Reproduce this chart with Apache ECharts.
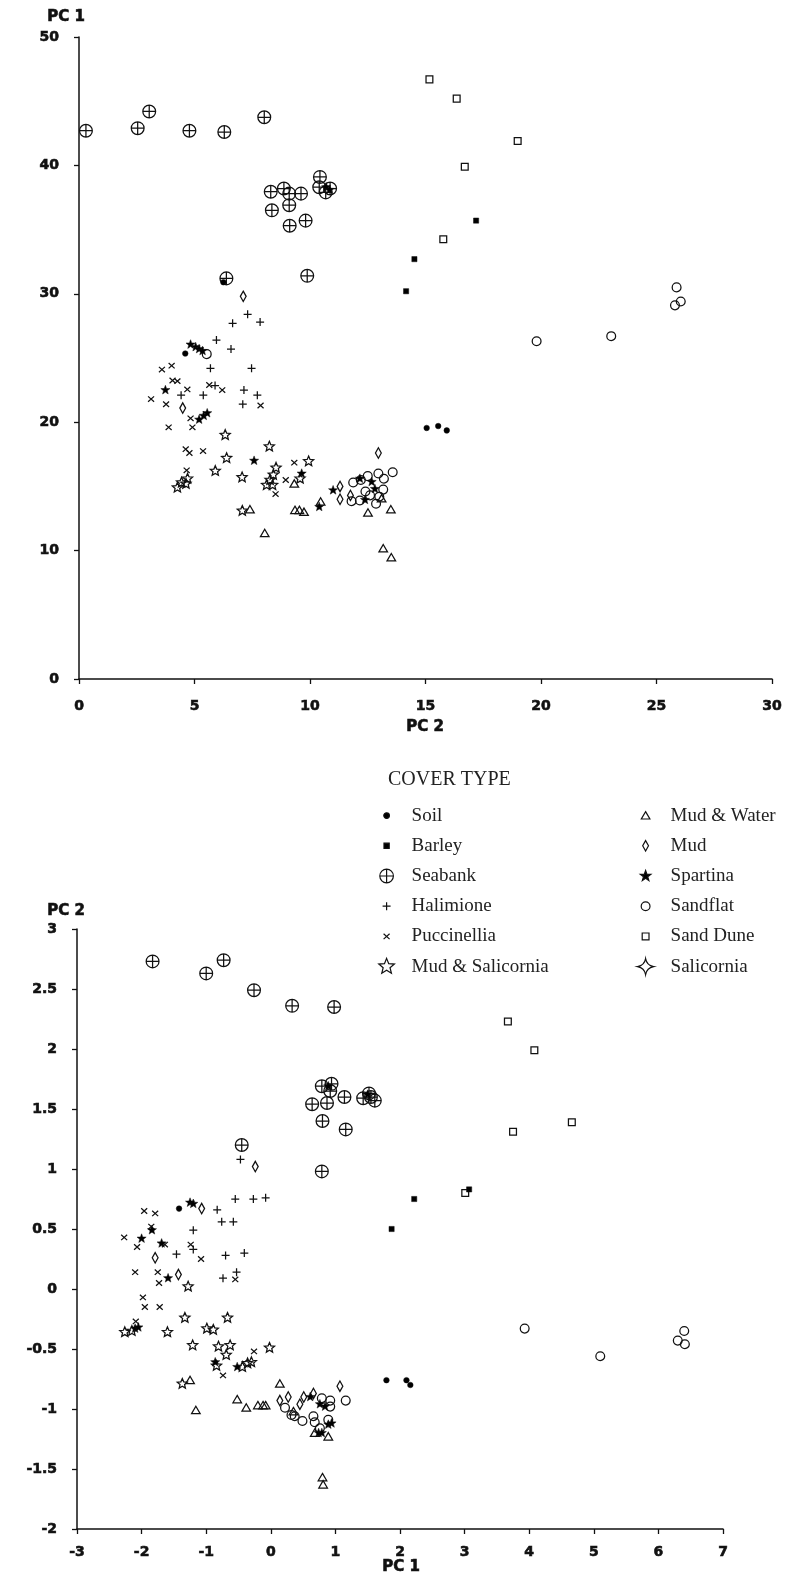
<!DOCTYPE html>
<html><head><meta charset="utf-8">
<script src="https://cdn.jsdelivr.net/npm/echarts@6/dist/echarts.min.js"></script>
<style>html,body{margin:0;padding:0;background:#fff}#c{width:788px;height:1577px}</style>
</head><body><div id="c"></div>
<script>
// ---------- DATA: top chart (x = PC 2, y = PC 1) ----------
const seabankTop = [[0.3,42.7],[2.54,42.9],[3.04,44.2],[4.78,42.7],[6.29,42.6],[8.02,43.75],[8.30,37.95],[8.87,38.2],[9.10,37.8],[9.61,37.8],[8.35,36.5],[9.10,36.9],[9.12,35.3],[9.81,35.7],[10.43,39.1],[10.4,38.3],[10.68,37.9],[10.87,38.2],[9.88,31.4],[6.38,31.2]];
const soilTop = [[15.05,19.55],[15.55,19.7],[15.92,19.36],[4.6,25.35],[6.25,30.9]];
const barleyTop = [[14.16,30.2],[14.52,32.7],[17.19,35.7]];
const halimioneTop = [[7.30,28.4],[6.65,27.7],[7.84,27.8],[5.95,26.4],[6.58,25.7],[5.69,24.2],[7.47,24.2],[4.42,22.1],[5.38,22.1],[5.89,22.85],[7.14,22.5],[7.72,22.1],[7.09,21.4]];
const puccinelliaTop = [[3.59,24.1],[4.01,24.4],[4.05,23.25],[4.26,23.2],[4.69,22.55],[3.12,21.8],[3.77,21.4],[5.64,22.9],[6.2,22.5],[7.86,21.3],[4.83,20.3],[4.91,19.6],[3.88,19.6],[4.62,17.9],[4.78,17.6],[5.37,17.75],[9.32,16.85],[4.66,16.25],[8.95,15.5],[8.51,14.4]];
const mudSalicorniaTop = [[6.33,19.0],[8.24,18.1],[6.39,17.2],[9.94,16.95],[5.9,16.2],[7.06,15.7],[4.26,14.9],[4.44,15.3],[4.63,15.2],[4.7,15.6],[8.53,16.45],[8.41,15.9],[8.27,15.5],[8.12,15.1],[8.38,15.1],[9.57,15.6],[7.07,13.1]];
const mudWaterTop = [[9.32,15.2],[7.4,13.2],[9.35,13.15],[9.54,13.15],[9.74,13.0],[8.04,11.35],[10.46,13.8],[12.51,12.95],[13.5,13.2],[13.17,10.16],[13.52,9.46],[13.1,14.05]];
const mudTop = [[7.11,29.8],[4.49,21.1],[11.3,15.0],[11.3,14.0],[12.96,17.6],[11.75,14.3]];
const spartinaTop = [[10.7,38.3],[10.85,38.1],[4.83,26.05],[5.05,25.85],[5.2,25.7],[5.35,25.55],[3.74,22.5],[5.2,20.2],[5.4,20.5],[5.55,20.7],[7.58,17.0],[9.64,16.0],[10.4,13.4],[11.0,14.7],[12.16,15.6],[12.67,15.35],[12.81,14.8],[12.38,13.95]];
const sandflatTop = [[5.53,25.3],[25.87,30.5],[26.05,29.4],[25.8,29.1],[19.81,26.3],[23.04,26.7],[13.58,16.1],[11.87,15.3],[12.2,15.5],[12.5,15.8],[12.96,16.0],[13.2,15.6],[13.17,14.75],[12.86,13.65],[11.8,13.85],[12.16,13.9],[12.6,14.3],[13.0,14.2],[12.4,14.6]];
const sandDuneTop = [[15.17,46.7],[16.35,45.2],[18.99,41.9],[16.7,39.9],[15.77,34.25]];
const salicorniaTop = [];

// ---------- DATA: bottom chart (x = PC 1, y = PC 2) ----------
const seabankBot = [[-1.83,2.73],[-1.0,2.63],[-0.73,2.74],[-0.26,2.49],[0.33,2.36],[0.98,2.35],[0.79,1.69],[0.94,1.71],[0.92,1.65],[0.64,1.54],[0.87,1.55],[1.14,1.60],[1.43,1.59],[1.52,1.63],[1.55,1.60],[1.61,1.57],[0.80,1.40],[1.16,1.33],[0.79,0.98],[-0.45,1.20]];
const soilBot = [[-1.42,0.67],[1.79,-0.76],[2.10,-0.76],[2.16,-0.80]];
const barleyBot = [[3.07,0.83],[2.22,0.75],[1.87,0.50]];
const halimioneBot = [[-0.47,1.08],[-0.55,0.75],[-0.27,0.75],[-0.08,0.76],[-0.83,0.66],[-0.76,0.56],[-0.58,0.56],[-1.20,0.49],[-1.46,0.29],[-1.20,0.33],[-0.70,0.28],[-0.41,0.30],[-0.74,0.09],[-0.53,0.14]];
const puccinelliaBot = [[-1.96,0.65],[-1.79,0.63],[-2.27,0.43],[-2.07,0.35],[-1.85,0.52],[-1.24,0.37],[-1.08,0.25],[-2.10,0.14],[-1.75,0.14],[-1.73,0.05],[-0.55,0.08],[-1.98,-0.07],[-1.95,-0.15],[-1.72,-0.15],[-2.09,-0.27],[-0.74,-0.72],[-0.26,-0.52],[-1.64,0.37]];
const mudSalicorniaBot = [[-1.28,0.02],[-2.26,-0.36],[-2.15,-0.35],[-1.60,-0.36],[-1.33,-0.24],[-0.67,-0.24],[-0.99,-0.33],[-0.89,-0.34],[-1.21,-0.47],[-0.81,-0.48],[-0.63,-0.47],[-0.69,-0.55],[-0.84,-0.64],[-0.44,-0.65],[-0.36,-0.62],[-0.30,-0.61],[-0.02,-0.49],[-1.37,-0.79]];
const mudWaterBot = [[-1.25,-0.76],[-1.16,-1.01],[-0.52,-0.92],[-0.38,-0.99],[-0.20,-0.97],[-0.12,-0.97],[-0.08,-0.97],[0.14,-0.79],[0.89,-1.23],[0.35,-1.02],[0.68,-1.20],[0.80,-1.57],[0.81,-1.63]];
const mudBot = [[-1.79,0.26],[-1.43,0.12],[-1.07,0.67],[-0.24,1.02],[1.07,-0.81],[0.14,-0.93],[0.27,-0.90],[0.45,-0.96],[0.51,-0.90],[0.66,-0.87]];
const spartinaBot = [[0.89,1.69],[1.5,1.62],[-2.0,0.42],[-1.84,0.49],[-1.69,0.38],[-1.59,0.09],[-1.25,0.72],[-1.2,0.71],[-2.1,-0.33],[-2.05,-0.32],[0.61,-0.90],[0.76,-0.96],[0.84,-0.98],[0.89,-1.13],[0.94,-1.12],[0.74,-1.20],[0.79,-1.20],[-0.52,-0.65],[-0.86,-0.61]];
const sandflatBot = [[3.93,-0.33],[5.10,-0.56],[6.40,-0.35],[6.30,-0.43],[6.41,-0.46],[1.16,-0.93],[0.22,-0.99],[0.32,-1.05],[0.37,-1.06],[0.49,-1.10],[0.66,-1.06],[0.68,-1.11],[0.76,-1.16],[0.79,-0.91],[0.92,-0.93],[0.92,-0.98],[0.89,-1.09]];
const sandDuneBot = [[3.67,2.23],[4.08,1.99],[4.66,1.39],[3.75,1.31],[3.01,0.80]];
const salicorniaBot = [];

// ---------- TICKS / LABELS ----------
const topXTicks = {min:0, max:30, interval:5};
const topYTicks = {min:0, max:50, interval:10};
const botXTicks = {min:-3, max:7, interval:1};
const botYTicks = {min:-2, max:3, interval:0.5};
const leftLegendNames = ['Soil','Barley','Seabank','Halimione','Puccinellia','Mud & Salicornia'];
const rightLegendNames = ['Mud & Water','Mud','Spartina','Sandflat','Sand Dune','Salicornia'];

// ---------- SYMBOLS (20x20 frame) ----------
function star(R, r, n) {
  let d = 'M0,0M20,20';
  for (let k = 0; k < 2*n; k++) {
    const a = -Math.PI/2 + k*Math.PI/n;
    const rad = k % 2 ? r : R;
    d += (k ? 'L' : 'M') + (10 + rad*Math.cos(a)).toFixed(2) + ',' + (10 + rad*Math.sin(a)).toFixed(2);
  }
  return 'path://' + d + 'Z';
}
const F = 'M0,0M20,20';
const SYM = {
  'Soil': 'path://' + F + 'M12.8,10A2.8,2.8,0,1,1,7.2,10A2.8,2.8,0,1,1,12.8,10Z',
  'Barley': 'path://' + F + 'M7.4,7.4L12.6,7.4L12.6,12.6L7.4,12.6Z',
  'Seabank': 'path://' + F + 'M16.4,10A6.4,6.4,0,1,1,3.6,10A6.4,6.4,0,1,1,16.4,10ZM3.6,10L16.4,10M10,3.6L10,16.4',
  'Halimione': 'path://' + F + 'M6,10L14,10M10,6L10,14',
  'Puccinellia': 'path://' + F + 'M7,7.3L13,12.7M13,7.3L7,12.7',
  'Mud & Salicornia': star(5.3, 2.4, 5),
  'Mud & Water': 'path://' + F + 'M10,6L14.3,13.4L5.7,13.4Z',
  'Mud': 'path://' + F + 'M10,4.8L12.9,10L10,15.2L7.1,10Z',
  'Spartina': star(4.8, 2.0, 5),
  'Sandflat': 'path://' + F + 'M14.4,10A4.4,4.4,0,1,1,5.6,10A4.4,4.4,0,1,1,14.4,10Z',
  'Sand Dune': 'path://' + F + 'M6.6,6.6L13.4,6.6L13.4,13.4L6.6,13.4Z',
  'Salicornia': 'path://' + F + 'M10,3Q11,9,17,10Q11,11,10,17Q9,11,3,10Q9,9,10,3Z'
};
const LEGEND_ICON = Object.assign({}, SYM, {
  'Mud & Salicornia': star(8.2, 3.6, 5),
  'Spartina': star(5.5, 2.2, 5),
  'Seabank': 'path://' + F + 'M16.8,10A6.8,6.8,0,1,1,3.2,10A6.8,6.8,0,1,1,16.8,10ZM3.2,10L16.8,10M10,3.2L10,16.8',
  'Salicornia': 'path://' + F + 'M10,2Q11.2,8.8,18,10Q11.2,11.2,10,18Q8.8,11.2,2,10Q8.8,8.8,10,2Z'
});
const FILLED = {'Soil':1,'Barley':1,'Spartina':1};

const seriesDefs = [
  ['Seabank', seabankTop, seabankBot],
  ['Halimione', halimioneTop, halimioneBot],
  ['Puccinellia', puccinelliaTop, puccinelliaBot],
  ['Mud & Salicornia', mudSalicorniaTop, mudSalicorniaBot],
  ['Salicornia', salicorniaTop, salicorniaBot],
  ['Mud & Water', mudWaterTop, mudWaterBot],
  ['Mud', mudTop, mudBot],
  ['Sandflat', sandflatTop, sandflatBot],
  ['Sand Dune', sandDuneTop, sandDuneBot],
  ['Spartina', spartinaTop, spartinaBot],
  ['Barley', barleyTop, barleyBot],
  ['Soil', soilTop, soilBot]
];

const series = [];
seriesDefs.forEach(function (d, i) {
  [d[1], d[2]].forEach(function (data, g) {
    series.push({
      type: 'scatter', name: d[0], xAxisIndex: g, yAxisIndex: g,
      data: data, symbol: SYM[d[0]], symbolSize: 20, z: 2 + i,
      itemStyle: {
        color: FILLED[d[0]] ? '#000' : 'rgba(0,0,0,0)',
        borderColor: '#111', borderWidth: FILLED[d[0]] ? 0.5 : 1.25, opacity: 1
      },
      silent: true
    });
  });
});

const tickFont = {fontFamily: 'DejaVu Sans', fontWeight: 'bold', fontSize: 14, color: '#111',
                  textBorderColor: '#111', textBorderWidth: 0.6};
const axisLine = {show: true, onZero: false, lineStyle: {color: '#111', width: 1.5}};
const axisTick = {show: true, inside: false, length: 5, lineStyle: {color: '#111', width: 1.3}};
function axis(t, grid, margin) {
  return {
    type: 'value', gridIndex: grid, min: t.min, max: t.max, interval: t.interval,
    axisLine: axisLine, axisTick: axisTick, splitLine: {show: false},
    axisLabel: Object.assign({margin: margin, showMinLabel: true, showMaxLabel: true}, tickFont)
  };
}

function legend(names, left) {
  return {
    data: names.map(function (n) { return {name: n, icon: LEGEND_ICON[n]}; }),
    orient: 'vertical', left: left, top: 800, padding: 5,
    itemWidth: 20, itemHeight: 20, itemGap: 9, selectedMode: false,
    itemStyle: {borderColor: '#111', borderWidth: 1.2},
    textStyle: {fontFamily: 'Liberation Serif', fontSize: 19, color: '#222', padding: [0, 0, 0, 10]}
  };
}

const nameFont = 'bold 15px "DejaVu Sans"';
const nameStyle = function (t) { return {text: t, font: nameFont, fill: '#111', stroke: '#111', lineWidth: 0.6}; };
const option = {
  animation: false,
  backgroundColor: '#fff',
  grid: [
    {left: 79, top: 37, width: 693, height: 642},
    {left: 77, top: 929, width: 646, height: 600}
  ],
  xAxis: [axis(topXTicks, 0, 20), axis(botXTicks, 1, 16)],
  yAxis: [axis(topYTicks, 0, 20), axis(botYTicks, 1, 20)],
  legend: [legend(leftLegendNames, 371), legend(rightLegendNames, 630)],
  title: {
    text: 'COVER TYPE', left: 388, top: 770, padding: 0,
    textStyle: {fontFamily: 'Liberation Serif', fontWeight: 'normal', fontSize: 20, color: '#222'}
  },
  graphic: [
    {type: 'text', left: 47, top: 9, style: nameStyle('PC 1')},
    {type: 'text', left: 406, top: 719, style: nameStyle('PC 2')},
    {type: 'text', left: 47, top: 903, style: nameStyle('PC 2')},
    {type: 'text', left: 382, top: 1559, style: nameStyle('PC 1')}
  ],
  series: series
};

const chart = echarts.init(document.getElementById('c'), null, {renderer: 'canvas'});
chart.setOption(option);
</script></body></html>
